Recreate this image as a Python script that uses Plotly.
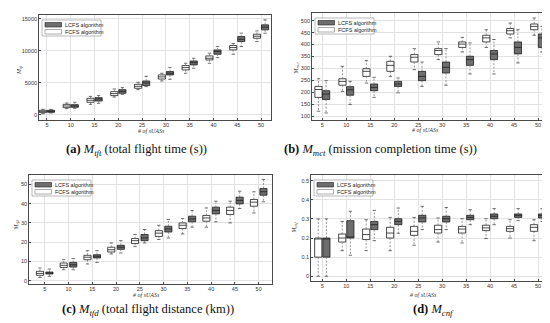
import plotly.graph_objects as go

W, H = 550, 323

# ---------------- data ----------------
n_suas = [5, 10, 15, 20, 25, 30, 35, 40, 45, 50]
xtick_labels = [str(n) for n in n_suas]
algos = ["LCFS algorithm", "FCFS algorithm"]

# (a) total flight time (s)
tft_fcfs_lo  = [200, 990, 1660, 2800, 3950, 5300, 6500, 8060, 9460, 11440]
tft_fcfs_q1  = [360, 1140, 1980, 3020, 4160, 5600, 7020, 8580, 10140, 11960]
tft_fcfs_med = [520, 1400, 2290, 3330, 4470, 5930, 7380, 8840, 10500, 12270]
tft_fcfs_q3  = [730, 1660, 2600, 3640, 4780, 6240, 7700, 9200, 10816, 12580]
tft_fcfs_hi  = [880, 1870, 2900, 4050, 5100, 6500, 8060, 9620, 11130, 13100]
tft_lcfs_lo  = [310, 1040, 1820, 3220, 4420, 5560, 7280, 8940, 10660, 12740]
tft_lcfs_q1  = [420, 1200, 2180, 3380, 4580, 6240, 7800, 9460, 11440, 13260]
tft_lcfs_med = [570, 1400, 2500, 3690, 4990, 6500, 8160, 9880, 11800, 13680]
tft_lcfs_q3  = [730, 1610, 2700, 3950, 5300, 6760, 8420, 10140, 12220, 14040]
tft_lcfs_hi  = [880, 1980, 3020, 4260, 6030, 7380, 8840, 10660, 12740, 14820]

# (b) mission completion time (s)
mct_fcfs_lo  = [121, 204, 239, 267, 295, 337, 369, 388, 428, 439]
mct_fcfs_q1  = [179, 230, 267, 288, 327, 358, 388, 411, 444, 462]
mct_fcfs_med = [212, 246, 288, 313, 347, 375, 402, 428, 458, 476]
mct_fcfs_q3  = [225, 257, 299, 330, 358, 383, 411, 439, 467, 486]
mct_fcfs_hi  = [257, 309, 333, 351, 383, 411, 430, 462, 490, 511]
mct_lcfs_lo  = [114, 149, 179, 198, 225, 230, 277, 277, 323, 369]
mct_lcfs_q1  = [170, 188, 207, 225, 249, 281, 313, 337, 361, 388]
mct_lcfs_med = [193, 211, 221, 235, 267, 305, 337, 361, 388, 428]
mct_lcfs_q3  = [207, 224, 235, 246, 288, 327, 351, 375, 411, 444]
mct_lcfs_hi  = [249, 246, 263, 260, 327, 383, 407, 421, 462, 476]

# (c) total flight distance (km)
tfd_fcfs_lo  = [1.7, 5.7, 8.7, 13.9, 17.7, 21.4, 24.3, 27.8, 30.0, 35.2]
tfd_fcfs_q1  = [2.8, 6.9, 10.9, 14.9, 19.3, 23.0, 27.1, 30.9, 34.4, 38.7]
tfd_fcfs_med = [3.8, 8.0, 12.2, 16.1, 20.8, 24.7, 28.8, 32.6, 36.5, 40.8]
tfd_fcfs_q3  = [4.9, 9.2, 13.2, 17.4, 21.9, 26.0, 30.0, 33.9, 38.2, 42.2]
tfd_fcfs_hi  = [6.6, 10.9, 15.6, 19.6, 24.0, 28.8, 32.3, 37.8, 41.3, 46.2]
tfd_lcfs_lo  = [2.3, 5.7, 9.5, 14.4, 19.6, 22.2, 27.8, 30.6, 37.5, 41.0]
tfd_lcfs_q1  = [3.5, 7.1, 11.8, 16.3, 20.8, 25.3, 30.6, 34.7, 39.9, 44.4]
tfd_lcfs_med = [4.0, 8.3, 12.7, 17.4, 22.2, 26.9, 32.1, 36.5, 41.7, 46.2]
tfd_lcfs_q3  = [4.5, 9.5, 13.5, 18.4, 24.0, 28.3, 33.5, 38.2, 43.4, 47.9]
tfd_lcfs_hi  = [6.1, 11.5, 15.6, 20.8, 26.6, 31.8, 36.5, 41.3, 46.5, 52.6]

# (d) conflicts
cnf_fcfs_lo  = [0.0, 0.134, 0.134, 0.134, 0.162, 0.179, 0.174, 0.197, 0.200, 0.186]
cnf_fcfs_q1  = [0.1, 0.179, 0.192, 0.200, 0.214, 0.226, 0.226, 0.239, 0.235, 0.235]
cnf_fcfs_med = [0.2, 0.200, 0.218, 0.226, 0.235, 0.244, 0.247, 0.253, 0.249, 0.256]
cnf_fcfs_q3  = [0.2, 0.221, 0.247, 0.256, 0.261, 0.267, 0.261, 0.267, 0.261, 0.270]
cnf_fcfs_hi  = [0.3, 0.287, 0.296, 0.308, 0.308, 0.305, 0.301, 0.301, 0.296, 0.296]
cnf_lcfs_lo  = [0.0, 0.110, 0.186, 0.225, 0.244, 0.244, 0.270, 0.270, 0.291, 0.287]
cnf_lcfs_q1  = [0.1, 0.200, 0.244, 0.270, 0.284, 0.284, 0.296, 0.301, 0.308, 0.305]
cnf_lcfs_med = [0.2, 0.200, 0.270, 0.287, 0.305, 0.301, 0.308, 0.314, 0.319, 0.317]
cnf_lcfs_q3  = [0.2, 0.291, 0.287, 0.301, 0.319, 0.314, 0.319, 0.326, 0.326, 0.326]
cnf_lcfs_hi  = [0.3, 0.340, 0.345, 0.357, 0.366, 0.360, 0.348, 0.354, 0.354, 0.354]

# ---------------- styles ----------------
SANS = "Liberation Sans"
SERIF = "Liberation Serif"
LCFS_FILL = "#6e6e6e"
FCFS_FILL = "#ffffff"
EDGE = "#1e1e1e"
WHISK = "#6a6a6a"
BOX_W = 1.5
CAP_HW = 0.35


def px(x):
    return x / W


def py(y):
    return 1 - y / H


panels = [
    dict(sfx="", box=(31, 263, 7, 112), xr=[3.32, 52.1], yr=[-780, 15576],
         yt=[0, 5000, 10000, 15000], off=0.85,
         ytitle="<i>M<sub>tft</sub></i>", ytpos=(11, 62), xtpos=(143, 123),
         series=[(tft_lcfs_lo, tft_lcfs_q1, tft_lcfs_med, tft_lcfs_q3, tft_lcfs_hi),
                 (tft_fcfs_lo, tft_fcfs_q1, tft_fcfs_med, tft_fcfs_q3, tft_fcfs_hi)],
         cap=("<b>(a)</b> <i>M<sub>tft</sub></i> (total flight time (s))", 128, 142)),
    dict(sfx="2", box=(304, 543, 5, 112), xr=[2.85, 52.7], yr=[84.5, 532],
         yt=list(range(100, 501, 50)), off=0.8,
         ytitle="<i>M<sub>mct</sub></i>", ytpos=(287.5, 60), xtpos=(417, 122),
         series=[(mct_lcfs_lo, mct_lcfs_q1, mct_lcfs_med, mct_lcfs_q3, mct_lcfs_hi),
                 (mct_fcfs_lo, mct_fcfs_q1, mct_fcfs_med, mct_fcfs_q3, mct_fcfs_hi)],
         cap=("<b>(b)</b> <i>M<sub>mct</sub></i> (mission completion time (s))", 372, 142)),
    dict(sfx="3", box=(21, 264, 167, 276), xr=[1.7, 52.8], yr=[-1.7, 54.9],
         yt=[0, 10, 20, 30, 40, 50], off=1.0,
         ytitle="<i>M<sub>tfd</sub></i>", ytpos=(7.5, 217), xtpos=(138.5, 287),
         series=[(tfd_lcfs_lo, tfd_lcfs_q1, tfd_lcfs_med, tfd_lcfs_q3, tfd_lcfs_hi),
                 (tfd_fcfs_lo, tfd_fcfs_q1, tfd_fcfs_med, tfd_fcfs_q3, tfd_fcfs_hi)],
         cap=("<b>(c)</b> <i>M<sub>tfd</sub></i> (total flight distance (km))", 140, 302)),
    dict(sfx="4", box=(303, 543, 167, 273), xr=[2.64, 52.7], yr=[-0.025, 0.53],
         yt=[0, 0.1, 0.2, 0.3, 0.4, 0.5], off=0.85,
         ytitle="<i>M<sub>cnf</sub></i>", ytpos=(285.5, 220), xtpos=(415.5, 287),
         series=[(cnf_lcfs_lo, cnf_lcfs_q1, cnf_lcfs_med, cnf_lcfs_q3, cnf_lcfs_hi),
                 (cnf_fcfs_lo, cnf_fcfs_q1, cnf_fcfs_med, cnf_fcfs_q3, cnf_fcfs_hi)],
         cap=("<b>(d)</b> <i>M<sub>cnf</sub></i>", 425, 302)),
]

fig = go.Figure()
shapes = []
annotations = []
layout = {}

for p in panels:
    sfx = p["sfx"]
    xa, ya = "x" + sfx, "y" + sfx
    for k, (lo, q1, med, q3, hi) in enumerate(p["series"]):
        sign = 1 if k == 0 else -1
        fill = LCFS_FILL if k == 0 else FCFS_FILL
        xs = [n + sign * p["off"] for n in n_suas]
        # whiskers (dashed) and caps
        wx, wy = [], []
        cx, cy = [], []
        for xi, a, b, c, d in zip(xs, lo, q1, q3, hi):
            wx += [xi, xi, None, xi, xi, None]
            wy += [c, d, None, b, a, None]
            cx += [xi - CAP_HW, xi + CAP_HW, None, xi - CAP_HW, xi + CAP_HW, None]
            cy += [d, d, None, a, a, None]
        fig.add_trace(go.Scatter(x=wx, y=wy, mode="lines", xaxis=xa, yaxis=ya,
                                 line=dict(color=WHISK, width=0.7, dash="2px,1.5px"),
                                 showlegend=False, hoverinfo="skip"))
        fig.add_trace(go.Scatter(x=cx, y=cy, mode="lines", xaxis=xa, yaxis=ya,
                                 line=dict(color="#333333", width=0.7),
                                 showlegend=False, hoverinfo="skip"))
        fig.add_trace(go.Box(x=xs, q1=q1, median=med, q3=q3,
                             lowerfence=q1, upperfence=q3,
                             width=BOX_W, whiskerwidth=0, boxpoints=False,
                             fillcolor=fill, line=dict(color=EDGE, width=0.8),
                             xaxis=xa, yaxis=ya, showlegend=False,
                             name=algos[k], hoverinfo="skip"))

    x0, x1, y0, y1 = p["box"]
    axis_common = dict(showline=True, mirror=True, linecolor="#4a4a4a", linewidth=0.7,
                       showgrid=True, gridcolor="#e2e2e2", gridwidth=0.6,
                       zeroline=False, ticks="inside", ticklen=2, tickwidth=0.6,
                       tickcolor="#4a4a4a",
                       tickfont=dict(family=SANS, size=5.5, color="#333333"))
    layout["xaxis" + sfx] = dict(domain=[px(x0), px(x1)], range=p["xr"], anchor=ya,
                                 tickmode="array", tickvals=n_suas, ticktext=xtick_labels,
                                 **axis_common)
    layout["yaxis" + sfx] = dict(domain=[py(y1), py(y0)], range=p["yr"], anchor=xa,
                                 tickmode="array", tickvals=p["yt"],
                                 ticktext=[("%g" % v) for v in p["yt"]],
                                 **axis_common)

    # axis titles
    annotations.append(dict(text="<i># of sUASs</i>", x=px(p["xtpos"][0]), y=py(p["xtpos"][1]),
                            xref="paper", yref="paper", showarrow=False,
                            font=dict(family=SERIF, size=6, color="#333333"),
                            xanchor="center", yanchor="middle"))
    annotations.append(dict(text=p["ytitle"], x=px(p["ytpos"][0]), y=py(p["ytpos"][1]),
                            xref="paper", yref="paper", showarrow=False, textangle=-90,
                            font=dict(family=SERIF, size=6, color="#333333"),
                            xanchor="center", yanchor="middle"))
    # caption
    annotations.append(dict(text=p["cap"][0], x=px(p["cap"][1]), y=py(p["cap"][2]),
                            xref="paper", yref="paper", showarrow=False,
                            font=dict(family=SERIF, size=12.5, color="#111111"),
                            xanchor="center", yanchor="middle"))

    # legend box (pixel offsets relative to axes top-left)
    lx, ly = x0, y0
    shapes.append(dict(type="rect", xref="paper", yref="paper",
                       x0=px(lx + 3), x1=px(lx + 62), y0=py(ly + 21), y1=py(ly + 5),
                       line=dict(color="#8a8a8a", width=0.6), fillcolor="white"))
    for k, (dy0, dy1) in enumerate([(7.5, 12), (14.5, 19)]):
        shapes.append(dict(type="rect", xref="paper", yref="paper",
                           x0=px(lx + 6), x1=px(lx + 22.5), y0=py(ly + dy1), y1=py(ly + dy0),
                           line=dict(color=EDGE if k == 0 else "#777777", width=0.6),
                           fillcolor=LCFS_FILL if k == 0 else FCFS_FILL))
        annotations.append(dict(text=algos[k], x=px(lx + 23.5), y=py(ly + (dy0 + dy1) / 2),
                                xref="paper", yref="paper", showarrow=False,
                                font=dict(family=SANS, size=5.5, color="#222222"),
                                xanchor="left", yanchor="middle"))

fig.update_layout(width=W, height=H, margin=dict(l=0, r=0, t=0, b=0),
                  paper_bgcolor="white", plot_bgcolor="white",
                  showlegend=False, shapes=shapes, annotations=annotations,
                  boxmode="overlay", **layout)

fig.write_html("out.html")
